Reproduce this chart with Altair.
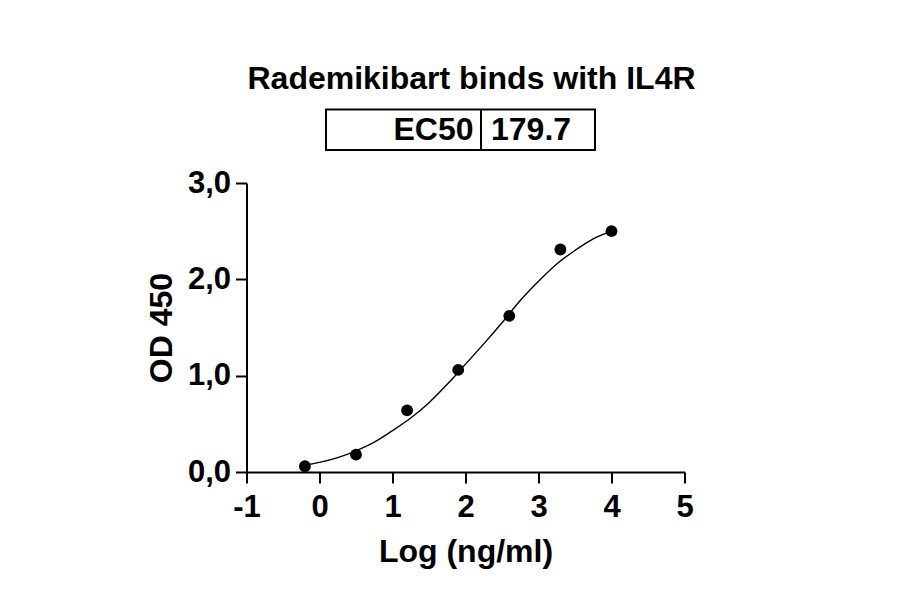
import altair as alt
import pandas as pd

# ---- data ----
log_conc = [-0.2, 0.5, 1.2, 1.9, 2.6, 3.3, 4.0]
od450 = [0.06, 0.18, 0.64, 1.06, 1.62, 2.31, 2.50]

# fitted curve
curve_x = [-0.2, 0.0, 0.25, 0.5, 0.75, 1.0, 1.25, 1.5, 1.75, 2.0, 2.25, 2.5,
           2.75, 3.0, 3.25, 3.5, 3.75, 4.0]
curve_y = [0.07, 0.10, 0.15, 0.22, 0.31, 0.43, 0.56, 0.72, 0.91, 1.12, 1.33, 1.55,
           1.78, 1.98, 2.16, 2.30, 2.42, 2.50]

title_text = ["Rademikibart binds with IL4R"]
table_label = ["EC50"]
table_value = ["179.7"]

x_ticks = [-1, 0, 1, 2, 3, 4, 5]
y_ticks = [0, 1, 2, 3]

FONT = "Liberation Sans"

pts = pd.DataFrame({"x": log_conc, "y": od450})
crv = pd.DataFrame({"x": curve_x, "y": curve_y})

xscale = alt.Scale(domain=[-1, 5], nice=False, zero=False)
yscale = alt.Scale(domain=[0, 3], nice=False)

xaxis = alt.Axis(values=x_ticks, title="Log (ng/ml)",
                 labelExpr="'' + datum.value", labelFlush=False,
                 titlePadding=14, labelPadding=9)
yaxis = alt.Axis(values=y_ticks, title="OD 450",
                 labelExpr="replace(format(datum.value, '.1f'), '.', ',')",
                 labelFlush=False, titlePadding=9, labelPadding=5)

curve = alt.Chart(crv).mark_line(color="black", strokeWidth=1.4, interpolate="monotone").encode(
    x=alt.X("x:Q", scale=xscale, axis=xaxis),
    y=alt.Y("y:Q", scale=yscale, axis=yaxis),
)

points = alt.Chart(pts).mark_point(filled=True, color="black", size=140, opacity=1).encode(
    x=alt.X("x:Q", scale=xscale),
    y=alt.Y("y:Q", scale=yscale),
)

title = alt.Chart(pd.DataFrame({"t": title_text})).mark_text(
    font=FONT, fontSize=32, fontWeight="bold", align="center", baseline="alphabetic", color="black"
).encode(text="t:N", x=alt.value(225), y=alt.value(-94.5))

box = alt.Chart(pd.DataFrame({"t": table_label})).mark_rect(
    fill="white", stroke="black", strokeWidth=2
).encode(x=alt.value(79.5), x2=alt.value(348.5), y=alt.value(-73.5), y2=alt.value(-33))

divider = alt.Chart(pd.DataFrame({"t": table_label})).mark_rule(
    color="black", strokeWidth=2
).encode(x=alt.value(234.5), y=alt.value(-73.5), y2=alt.value(-33))

lab = alt.Chart(pd.DataFrame({"t": table_label})).mark_text(
    font=FONT, fontSize=32, fontWeight="bold", align="right", baseline="alphabetic", color="black"
).encode(text="t:N", x=alt.value(227), y=alt.value(-43))

val = alt.Chart(pd.DataFrame({"t": table_value})).mark_text(
    font=FONT, fontSize=32, fontWeight="bold", align="left", baseline="alphabetic", color="black"
).encode(text="t:N", x=alt.value(244.5), y=alt.value(-43))

chart = alt.layer(curve, points, box, divider, title, lab, val).properties(
    width=438, height=289,
    autosize=alt.AutoSizeParams(type="none"),
    padding={"left": 238.5, "top": 175, "right": 200, "bottom": 100},
).configure_view(stroke=None).configure_axis(
    grid=False,
    domainColor="black", domainWidth=2,
    tickColor="black", tickWidth=2, tickSize=11,
    labelFont=FONT, labelFontSize=31, labelFontWeight="bold", labelColor="black",
    titleFont=FONT, titleFontSize=32, titleFontWeight="bold", titleColor="black",
)

chart.save("out.html", embed_options={"renderer": "svg", "actions": False})
